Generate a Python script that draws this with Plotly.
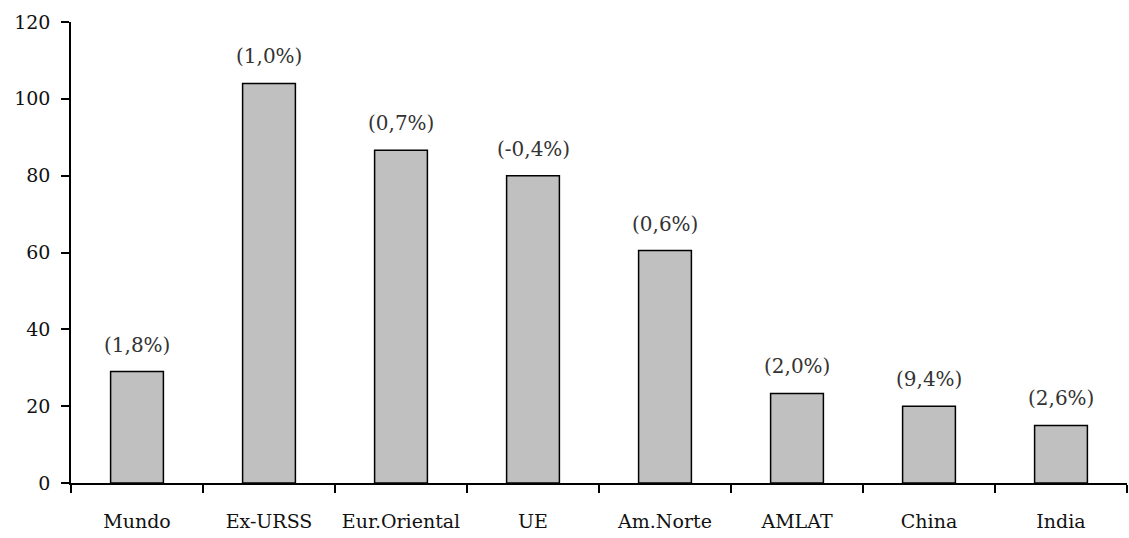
import plotly.graph_objects as go

categories = ["Mundo", "Ex-URSS", "Eur.Oriental", "UE", "Am.Norte", "AMLAT", "China", "India"]
values = [29, 104, 86.6, 80, 60.5, 23.3, 20, 15]
growth_labels = ["(1,8%)", "(1,0%)", "(0,7%)", "(-0,4%)", "(0,6%)", "(2,0%)", "(9,4%)", "(2,6%)"]
y_ticks = [0, 20, 40, 60, 80, 100, 120]

FONT = "DejaVu Serif"
FS = 19

fig = go.Figure()
fig.add_trace(go.Bar(
    x=categories, y=values,
    marker=dict(color="#c0c0c0", line=dict(color="#000000", width=1.5)),
    width=0.4,
    hoverinfo="x+y",
))

for c, v, t in zip(categories, values, growth_labels):
    fig.add_annotation(x=c, y=v, text=t, showarrow=False, yanchor="middle", yshift=27,
                       font=dict(family=FONT, size=20, color="#333333"))

fig.update_layout(
    width=1129, height=538,
    margin=dict(l=71, r=2, t=22, b=55, autoexpand=False),
    paper_bgcolor="white", plot_bgcolor="white",
    showlegend=False,
    font=dict(family=FONT, size=FS, color="#111111"),
    bargap=0.6,
)
fig.update_xaxes(
    showline=True, linecolor="black", linewidth=1.5, automargin=False,
    ticks="outside", tickson="boundaries", ticklen=8, tickwidth=1.5, tickcolor="black",
    ticklabelstandoff=20, tickangle=0, showgrid=False, zeroline=False,
    tickfont=dict(family=FONT, size=FS, color="#111111"),
)
fig.update_yaxes(
    range=[0, 120], tickvals=y_ticks, showline=True, linecolor="black", linewidth=1.5,
    automargin=False,
    ticks="outside", ticklen=8, tickwidth=1.5, tickcolor="black",
    ticklabelstandoff=7, showgrid=False, zeroline=False,
    tickfont=dict(family=FONT, size=FS, color="#111111"),
)

fig.write_html("out.html", config={"displayModeBar": False})
with open("out.html", "r", encoding="utf-8") as f:
    html = f.read()
html = html.replace("<head>", "<head><style>html,body{margin:0;padding:0;overflow:hidden;}</style>", 1)
with open("out.html", "w", encoding="utf-8") as f:
    f.write(html)
